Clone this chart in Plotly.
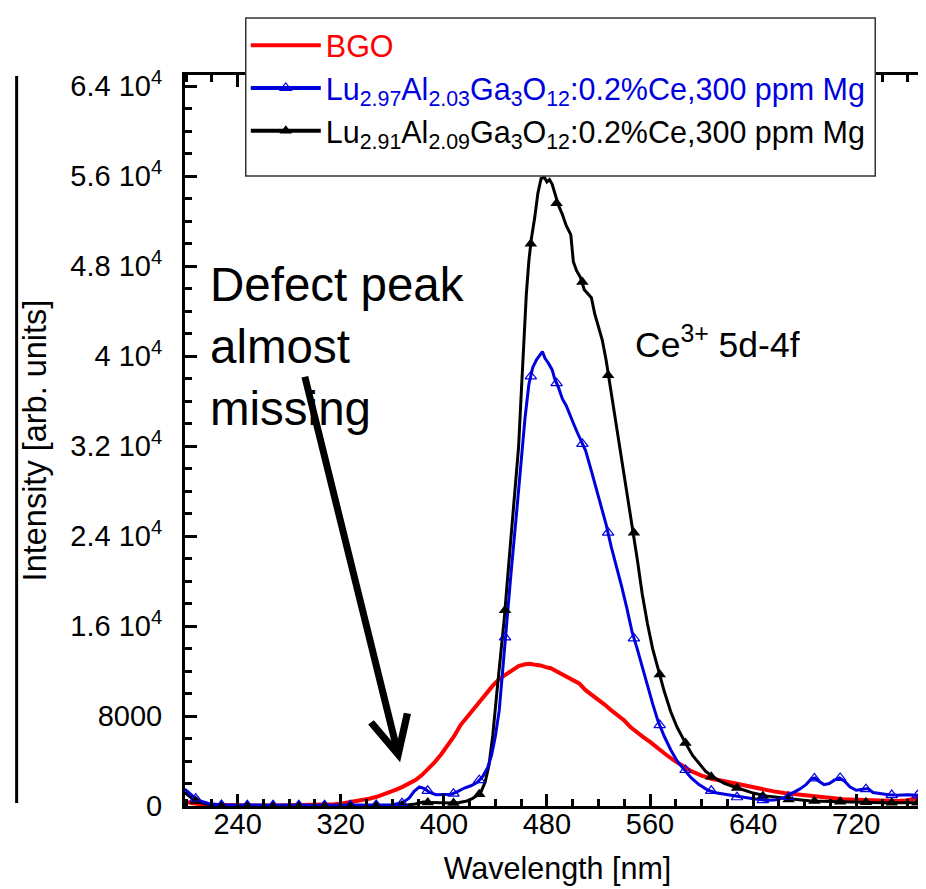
import plotly.graph_objects as go

# ---------------- data ----------------
bgo_wl = [199, 205, 215, 230, 250, 270, 290, 305, 315, 322, 330, 336, 342, 348, 353, 358, 363, 368, 373, 378,
          383, 388, 393, 398, 403, 408, 413, 418, 423, 428, 433, 438, 443, 448, 453, 458, 463, 467, 471, 475,
          479, 483, 487, 492, 496, 500, 505, 510, 515, 520, 525, 530, 535, 540, 545, 550, 555, 560, 566, 572,
          578, 585, 592, 600, 608, 616, 624, 632, 640, 648, 656, 664, 672, 680, 690, 700, 710, 720, 730, 740,
          750, 758, 764, 768, 772, 777]
bgo_int = [400, 250, 120, 60, 40, 40, 50, 80, 150, 250, 380, 500, 650, 820, 1000, 1200, 1450, 1700, 2000, 2300,
           2750, 3300, 3900, 4600, 5400, 6200, 7200, 7900, 8700, 9400, 10000, 10700, 11300, 11700, 12100, 12450, 12600, 12650, 12550, 12500,
           12350, 12250, 12000, 11700, 11500, 11200, 10900, 10300, 9900, 9400, 9000, 8500, 8100, 7600, 7000, 6500, 6100, 5700, 5100, 4600,
           4100, 3600, 3100, 2700, 2400, 2250, 2050, 1850, 1700, 1500, 1300, 1150, 1050, 950, 800, 700, 600, 550, 500, 450,
           450, 500, 600, 900, 1200, 800]

lu297_wl = [199, 202, 206, 211, 218, 230, 260, 300, 340, 360, 368, 373, 377, 381, 385, 389, 394, 400, 406, 411,
            416, 421, 426, 430, 434, 437, 440, 443, 446, 449, 452, 456, 460, 463, 466, 469, 472, 474.5, 476.5, 478.5,
            481, 484, 486, 489, 492, 495, 498, 501, 504, 507, 510, 514, 518, 522, 526, 530, 534, 538, 542, 546,
            550, 554, 558, 562, 566, 571, 576, 581, 586, 592, 598, 605, 612, 620, 630, 640, 650, 658, 664, 670,
            676, 681, 685, 688, 691, 695, 699, 703, 707, 711, 715, 720, 725, 729, 733, 738, 745, 752, 760, 768, 777]
lu297_int = [1500, 1200, 800, 450, 200, 90, 60, 60, 80, 120, 300, 700, 1300, 1700, 1550, 1200, 1000, 1000, 1050, 1300,
             1600, 1800, 2100, 2600, 3400, 4500, 6200, 8500, 12500, 17000, 20500, 25500, 30500, 34500, 37500, 39000, 39700, 40100, 40400, 39800,
             39400, 38800, 38000, 37200, 36200, 35600, 34700, 33900, 33100, 32300, 31600, 30000, 28400, 26700, 25000, 23000, 21300, 19500, 17600, 15500,
             14000, 12300, 10600, 9100, 7600, 6200, 5000, 4000, 3300, 2500, 1900, 1400, 1150, 1000, 800, 650, 500, 550, 750, 1100,
             1500, 1900, 2400, 2500, 2200, 1900, 2000, 2300, 2500, 2200, 1700, 1400, 1450, 1550, 1200, 1100, 1000, 950, 1000, 950, 1100]

lu291_wl = [199, 202, 206, 211, 218, 230, 260, 300, 340, 370, 378, 384, 390, 398, 406, 412, 418, 422, 426, 429,
            432, 435, 438, 441, 444, 447, 450, 454, 458, 460, 462, 464, 466, 468, 470.5, 473, 475.5, 478, 480, 482,
            484, 486, 489, 492, 495, 498.5, 500.5, 503, 506, 509, 512, 514.5, 517, 520, 523, 526, 529, 532, 535, 538,
            542, 546, 550, 554, 558, 562, 566, 571, 576, 581, 587, 593, 598, 603, 610, 618, 628, 640, 650, 660,
            672, 685, 700, 720, 740, 760, 777]
lu291_int = [1200, 900, 550, 300, 120, 40, 30, 30, 40, 60, 180, 350, 320, 280, 260, 320, 450, 650, 950, 1300,
             2100, 3600, 6300, 9900, 13200, 16800, 21000, 26500, 31900, 36500, 41500, 45500, 48500, 50500, 52300, 54500, 55800, 55900, 55500, 55700,
             55300, 54500, 53400, 52600, 51600, 50800, 48400, 47600, 47000, 45900, 45500, 45200, 43800, 42700, 41400, 39600, 37400, 35500, 33300, 31000,
             28200, 25000, 22000, 18800, 16200, 14000, 12300, 10200, 8400, 7000, 5700, 4500, 3800, 3100, 2500, 2000, 1600, 1150, 900, 750,
             600, 450, 400, 350, 300, 300, 300]

# marker (symbol) points drawn on the two garnet curves
marker_wl = [207.5, 227.5, 247.5, 267.5, 287.5, 307.5, 327.5, 347.5, 367.5, 387.5, 407.5, 427.5, 447.5, 467.5, 487.5,
             507.5, 527.5, 547.5, 567.5, 587.5, 607.5, 627.5, 647.5, 667.5, 687.5, 707.5, 727.5, 747.5, 767.5]
lu297_marker_int = [650, 80, 60, 60, 60, 60, 70, 90, 250, 1350, 1100, 2300, 15000, 38200, 37600,
                    32200, 24300, 14900, 7200, 3200, 1350, 780, 520, 800, 2450, 2500, 1500, 970, 950]
lu291_marker_int = [450, 45, 35, 30, 30, 30, 35, 40, 55, 320, 270, 1050, 17400, 50000, 53600,
                    46600, 38300, 24300, 11700, 5600, 2600, 1600, 900, 570, 450, 380, 330, 300, 300]

y_tickvals = [0, 8000, 16000, 24000, 32000, 40000, 48000, 56000, 64000]
y_ticktext = ["0", "8000", "1.6 10<sup>4</sup>", "2.4 10<sup>4</sup>", "3.2 10<sup>4</sup>", "4 10<sup>4</sup>",
              "4.8 10<sup>4</sup>", "5.6 10<sup>4</sup>", "6.4 10<sup>4</sup>"]

names = ['<span style="color:#ff0000">BGO</span>',
         '<span style="color:#0000dd">Lu<sub>2.97</sub>Al<sub>2.03</sub>Ga<sub>3</sub>O<sub>12</sub>:0.2%Ce,300 ppm Mg</span>',
         '<span style="color:#000000">Lu<sub>2.91</sub>Al<sub>2.09</sub>Ga<sub>3</sub>O<sub>12</sub>:0.2%Ce,300 ppm Mg</span>']

RED, BLUE, BLACK = "#ff0000", "#0000dd", "#000000"
FONT = "Arial, Liberation Sans, sans-serif"

fig = go.Figure()

# curves
fig.add_trace(go.Scatter(x=bgo_wl, y=bgo_int, mode="lines", line=dict(color=RED, width=4),
                         showlegend=False, hoverinfo="skip"))
fig.add_trace(go.Scatter(x=lu291_wl, y=lu291_int, mode="lines", line=dict(color=BLACK, width=3),
                         showlegend=False, hoverinfo="skip"))
fig.add_trace(go.Scatter(x=lu297_wl, y=lu297_int, mode="lines", line=dict(color=BLUE, width=3),
                         showlegend=False, hoverinfo="skip"))
# markers
fig.add_trace(go.Scatter(x=marker_wl, y=lu291_marker_int, mode="markers",
                         marker=dict(symbol="triangle-up", size=11, color=BLACK),
                         showlegend=False, hoverinfo="skip"))
fig.add_trace(go.Scatter(x=marker_wl, y=lu297_marker_int, mode="markers",
                         marker=dict(symbol="triangle-up-open", size=10, color=BLUE, line=dict(width=1.2)),
                         showlegend=False, hoverinfo="skip"))

# legend entries
fig.add_trace(go.Scatter(x=[None], y=[None], mode="lines", line=dict(color=RED, width=4), name=names[0]))
fig.add_trace(go.Scatter(x=[None], y=[None], mode="lines+markers", line=dict(color=BLUE, width=4),
                         marker=dict(symbol="triangle-up-open", size=10, color=BLUE, line=dict(width=1.2)),
                         name=names[1]))
fig.add_trace(go.Scatter(x=[None], y=[None], mode="lines+markers", line=dict(color=BLACK, width=4),
                         marker=dict(symbol="triangle-up", size=11, color=BLACK), name=names[2]))

axis_common = dict(showline=True, linewidth=3, linecolor="black", mirror="ticks", ticks="inside",
                   tickwidth=3, ticklen=12, tickcolor="black", showgrid=False, zeroline=False,
                   tickfont=dict(family=FONT, size=29, color="black"))

fig.update_xaxes(range=[199.2, 777.2], tick0=240, dtick=80,
                 minor=dict(dtick=20, ticks="inside", ticklen=7, tickwidth=2.5, tickcolor="black"),
                 title=dict(text="Wavelength [nm]", font=dict(family=FONT, size=30.5, color="black"), standoff=19),
                 ticklabelstandoff=-10, **axis_common)
fig.update_yaxes(range=[0, 65000], tickmode="array", tickvals=y_tickvals, ticktext=y_ticktext,
                 minor=dict(dtick=2000, ticks="inside", ticklen=7, tickwidth=2.5, tickcolor="black"),
                 title=dict(text="Intensity [arb. units]", font=dict(family=FONT, size=32.5, color="black"), standoff=14),
                 ticklabelstandoff=14, **axis_common)

fig.add_annotation(text="Defect peak<br>almost<br>missing", x=217.0, y=40900, xref="x", yref="y",
                   xanchor="left", yanchor="middle", align="left", showarrow=False,
                   font=dict(family=FONT, size=47.5, color="black"))
fig.add_annotation(text="Ce<sup>3+</sup> 5d-4f", x=547.0, y=41200, xref="x", yref="y",
                   xanchor="left", yanchor="middle", showarrow=False,
                   font=dict(family=FONT, size=35.5, color="black"))
fig.add_annotation(text="", x=366.1, y=3900, ax=291.9, ay=38300, xref="x", yref="y", axref="x", ayref="y",
                   showarrow=True, arrowhead=5, arrowwidth=7, arrowsize=1.05, arrowcolor="black", standoff=0)

# legend frame (drawn as a box over the plot, like the original)
fig.add_shape(type="rect", xref="paper", yref="paper", x0=0.08155, x1=0.9265, y0=0.8618, y1=1.078,
              fillcolor="white", line=dict(color="#333333", width=1.5), layer="above")

# edge of the neighbouring panel on the slide
fig.add_shape(type="line", xref="paper", yref="paper", x0=-0.226, x1=-0.226, y0=0.004, y1=0.9986,
              line=dict(color="black", width=3))

fig.update_layout(width=926, height=889, autosize=False,
                  margin=dict(l=177, r=1, t=67, b=91),
                  paper_bgcolor="white", plot_bgcolor="white",
                  font=dict(family=FONT, color="black"),
                  legend=dict(x=0.0816, y=1.0766, xanchor="left", yanchor="top",
                              font=dict(family=FONT, size=30.5), bgcolor="rgba(0,0,0,0)",
                              borderwidth=0, itemwidth=70, tracegroupgap=0))

fig.write_html("out.html")
